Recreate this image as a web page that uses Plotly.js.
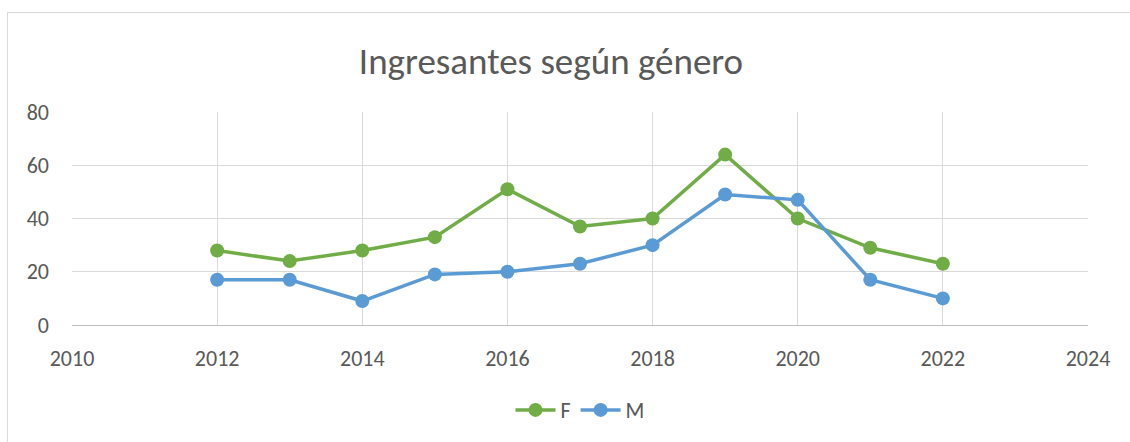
<!DOCTYPE html>
<html>
<head>
<meta charset="utf-8">
<script src="https://cdn.plot.ly/plotly-3.0.1.min.js"></script>
<style>
html,body{margin:0;padding:0;background:#fff;overflow:hidden;}
#wrap{position:relative;width:1130px;height:442px;}
#chart{position:absolute;left:0;top:0;width:1130px;height:442px;}
#frame{position:absolute;left:7px;top:12px;width:1200px;height:500px;border:1px solid #d9d9d9;pointer-events:none;}
</style>
</head>
<body>
<div id="wrap"><div id="chart"></div><div id="frame"></div></div>
<script>
const years = [2012, 2013, 2014, 2015, 2016, 2017, 2018, 2019, 2020, 2021, 2022];
const femenino = [28, 24, 28, 33, 51, 37, 40, 64, 40, 29, 23];
const masculino = [17, 17, 9, 19, 20, 23, 30, 49, 47, 17, 10];
const seriesNames = ['F', 'M'];
const titleText = 'Ingresantes según género';

const font = 'Carlito, Calibri, Lato, "Open Sans", sans-serif';
const traces = [
  {x: years, y: femenino, name: seriesNames[0], type: 'scatter', mode: 'lines+markers',
   line: {color: '#70ad47', width: 3.5}, marker: {color: '#70ad47', size: 14}},
  {x: years, y: masculino, name: seriesNames[1], type: 'scatter', mode: 'lines+markers',
   line: {color: '#5b9bd5', width: 3.5}, marker: {color: '#5b9bd5', size: 14}}
];
const layout = {
  width: 1130, height: 442, autosize: false,
  margin: {l: 72, r: 42, t: 112, b: 116, pad: 0},
  paper_bgcolor: '#fff', plot_bgcolor: '#fff',
  font: {family: font, color: '#595959', size: 22},
  title: {text: titleText, font: {family: font, size: 37, color: '#595959'},
          x: 551/1130, xanchor: 'center', xref: 'container', y: 1 - 61/442, yanchor: 'middle', yref: 'container'},
  xaxis: {range: [2010, 2024], dtick: 2, tick0: 2010, showgrid: true, gridcolor: '#d9d9d9', gridwidth: 1,
          showline: true, linecolor: '#bfbfbf', linewidth: 1, zeroline: false, ticks: '',
          ticklabelstandoff: 14, tickfont: {size: 22, color: '#595959'}, fixedrange: true},
  yaxis: {range: [0, 80], dtick: 20, showgrid: true, gridcolor: '#d9d9d9', gridwidth: 1,
          showline: false, zeroline: false, ticks: '', ticklabelstandoff: 22,
          tickfont: {size: 22, color: '#595959'}, fixedrange: true},
  showlegend: true,
  legend: {orientation: 'h', x: 0.5, xanchor: 'center', y: -0.393, yanchor: 'middle',
           font: {size: 22, color: '#595959'}, itemwidth: 40, traceorder: 'normal'}
};
Plotly.newPlot('chart', traces, layout, {displayModeBar: false, staticPlot: true});
</script>
</body>
</html>
